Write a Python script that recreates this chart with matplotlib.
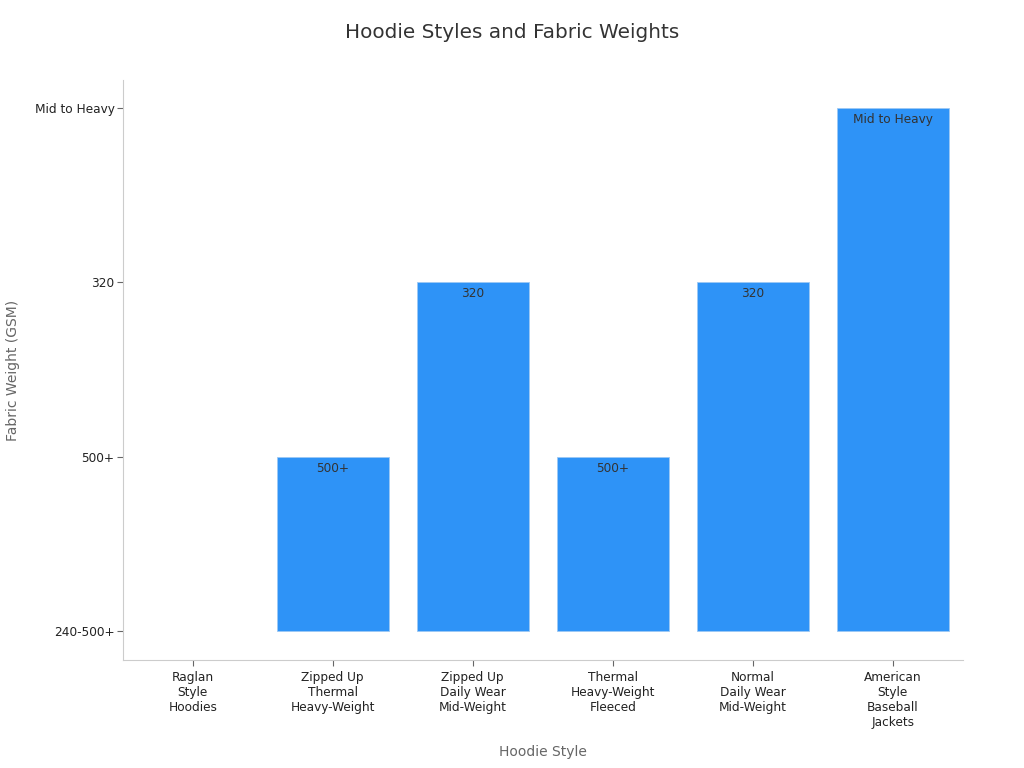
import matplotlib
matplotlib.use("Agg")
import matplotlib.pyplot as plt

# Data
styles = ["Raglan\nStyle\nHoodies", "Zipped Up\nThermal\nHeavy-Weight",
          "Zipped Up\nDaily Wear\nMid-Weight", "Thermal\nHeavy-Weight\nFleeced",
          "Normal\nDaily Wear\nMid-Weight", "American\nStyle\nBaseball\nJackets"]
weight_levels = ["240-500+", "500+", "320", "Mid to Heavy"]
weights = ["240-500+", "500+", "320", "500+", "320", "Mid to Heavy"]

heights = [weight_levels.index(w) for w in weights]
x = list(range(len(styles)))

fig = plt.figure(figsize=(10.24, 7.68), dpi=100)
ax = fig.add_axes([0.120, 0.1406, 0.820, 0.7554])

bars = ax.bar(x, heights, width=0.8, color="#2E93F7", edgecolor="#9cc9f5", linewidth=0.6)
for b, h in zip(bars, heights):
    if h == 0:
        b.set_linewidth(0)
for xi, h, w in zip(x, heights, weights):
    if h > 0:
        ax.text(xi, h - 0.03, w, ha="center", va="top", fontsize=8.7, color="#333333")

ax.set_xlim(-0.5, 5.5)
ax.set_ylim(-0.166, 3.16)
ax.set_xticks(x)
ax.set_xticklabels(styles, fontsize=8.7, color="#222222")
ax.set_yticks(range(len(weight_levels)))
ax.set_yticklabels(weight_levels, fontsize=8.7, color="#222222")

for s in ["top", "right"]:
    ax.spines[s].set_visible(False)
for s in ["left", "bottom"]:
    ax.spines[s].set_color("#cccccc")
ax.tick_params(colors="#666666", labelcolor="#222222", length=4, pad=2)
ax.tick_params(axis="x", pad=4)

ax.set_xlabel("Hoodie Style", fontsize=10, color="#666666")
ax.set_ylabel("Fabric Weight (GSM)", fontsize=10, color="#666666")
ax.yaxis.set_label_coords(-0.122, 0.5)
ax.xaxis.set_label_coords(0.5, -0.146)
fig.suptitle("Hoodie Styles and Fabric Weights", fontsize=14.4, color="#333333", y=0.97)

fig.savefig("out.png", dpi=100)
